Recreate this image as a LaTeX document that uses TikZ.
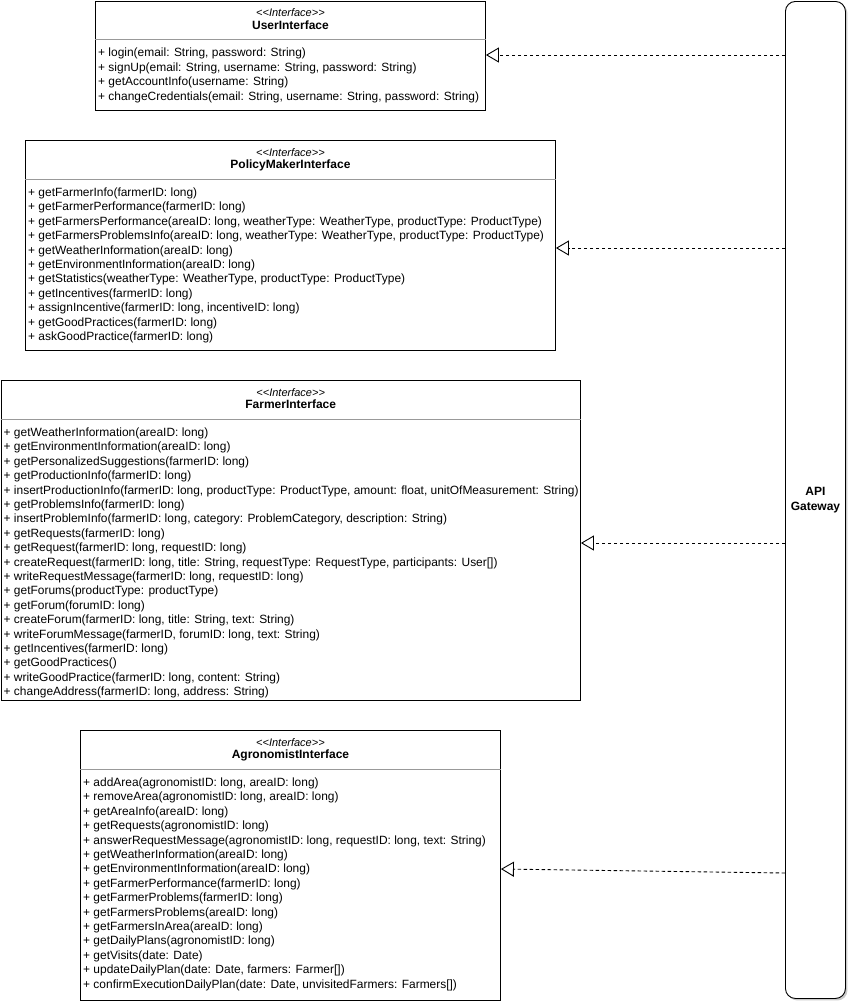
\documentclass[tikz,border=0pt]{standalone}
\usepackage{fontspec}
\setmainfont{Liberation Sans}
\usetikzlibrary{arrows.meta,shadows,calc}

% One UML interface box: name, left, top, width, height, title, operations
\newcommand\interfacebox[7]{%
  \node[classbox, minimum width=#4pt, minimum height=#5pt] (#1) at (#2,#3) {};
  \draw[divider] ([yshift=-39pt]#1.north west) -- ([yshift=-39pt]#1.north east);
  \node[stereo] (#1-stereo) at ($(#1.north)+(0,16)$) {{<}{<}Interface{>}{>}};
  \node[classname] (#1-name) at ($(#1.north)+(0,28.8)$) {#6};
  \node[members] (#1-ops) at ($(#1.north west)+(3,47.6)$) {#7};
}

\begin{document}
\begin{tikzpicture}[x=1pt,y=-1pt,
  classbox/.style={draw=black, line width=0.9pt, fill=white, inner sep=0, anchor=north west},
  divider/.style={draw=black!40, line width=0.9pt},
  stereo/.style={font=\fontsize{11}{13}\selectfont\itshape, anchor=base, inner sep=0},
  classname/.style={font=\fontsize{12}{14.4}\selectfont\bfseries, anchor=base, inner sep=0},
  members/.style={font=\fontsize{11.95}{14.4}\selectfont, align=left, anchor=north west, inner sep=0},
  gatewaybox/.style={draw=black, line width=0.9pt, fill=white, rounded corners=10pt,
    anchor=north west, align=center, font=\fontsize{12}{15}\selectfont\bfseries,
    drop shadow={shadow xshift=2pt, shadow yshift=-2pt, opacity=0.35, fill=black!60}},
  realizes/.style={draw=black, line width=0.9pt, dash pattern=on 3.5pt off 2.5pt,
    -{Triangle[open, length=13pt, width=15pt]}}
]
\useasboundingbox (0,0) rectangle (850,1005);

% API gateway column on the right
\node[gatewaybox, minimum width=60pt, minimum height=997pt] (gw) at (785,1) {API\\Gateway};

\interfacebox{user}{95}{0.5}{390}{109.5}{UserInterface}{%
+ login(email: String, password: String)\\
+ signUp(email: String, username: String, password: String)\\
+ getAccountInfo(username: String)\\
+ changeCredentials(email: String, username: String, password: String)}

\interfacebox{policy}{25}{140}{530}{210}{PolicyMakerInterface}{%
+ getFarmerInfo(farmerID: long)\\
+ getFarmerPerformance(farmerID: long)\\
+ getFarmersPerformance(areaID: long, weatherType: WeatherType, productType: ProductType)\\
+ getFarmersProblemsInfo(areaID: long, weatherType: WeatherType, productType: ProductType)\\
+ getWeatherInformation(areaID: long)\\
+ getEnvironmentInformation(areaID: long)\\
+ getStatistics(weatherType: WeatherType, productType: ProductType)\\
+ getIncentives(farmerID: long)\\
+ assignIncentive(farmerID: long, incentiveID: long)\\
+ getGoodPractices(farmerID: long)\\
+ askGoodPractice(farmerID: long)}

\interfacebox{farmer}{0.5}{380}{579.5}{320}{FarmerInterface}{%
+ getWeatherInformation(areaID: long)\\
+ getEnvironmentInformation(areaID: long)\\
+ getPersonalizedSuggestions(farmerID: long)\\
+ getProductionInfo(farmerID: long)\\
+ insertProductionInfo(farmerID: long, productType: ProductType, amount: float, unitOfMeasurement: String)\\
+ getProblemsInfo(farmerID: long)\\
+ insertProblemInfo(farmerID: long, category: ProblemCategory, description: String)\\
+ getRequests(farmerID: long)\\
+ getRequest(farmerID: long, requestID: long)\\
+ createRequest(farmerID: long, title: String, requestType: RequestType, participants: User[])\\
+ writeRequestMessage(farmerID: long, requestID: long)\\
+ getForums(productType: productType)\\
+ getForum(forumID: long)\\
+ createForum(farmerID: long, title: String, text: String)\\
+ writeForumMessage(farmerID, forumID: long, text: String)\\
+ getIncentives(farmerID: long)\\
+ getGoodPractices()\\
+ writeGoodPractice(farmerID: long, content: String)\\
+ changeAddress(farmerID: long, address: String)}

\interfacebox{agro}{80}{730}{420}{270}{AgronomistInterface}{%
+ addArea(agronomistID: long, areaID: long)\\
+ removeArea(agronomistID: long, areaID: long)\\
+ getAreaInfo(areaID: long)\\
+ getRequests(agronomistID: long)\\
+ answerRequestMessage(agronomistID: long, requestID: long, text: String)\\
+ getWeatherInformation(areaID: long)\\
+ getEnvironmentInformation(areaID: long)\\
+ getFarmerPerformance(farmerID: long)\\
+ getFarmerProblems(farmerID: long)\\
+ getFarmersProblems(areaID: long)\\
+ getFarmersInArea(areaID: long)\\
+ getDailyPlans(agronomistID: long)\\
+ getVisits(date: Date)\\
+ updateDailyPlan(date: Date, farmers: Farmer[])\\
+ confirmExecutionDailyPlan(date: Date, unvisitedFarmers: Farmers[])}

% heights at which the realization connectors run
\coordinate (lvl-user) at (0,55);
\coordinate (lvl-policy) at (0,248);
\coordinate (lvl-farmer) at (0,543);
\coordinate (lvl-agro-gw) at (0,873);
\coordinate (lvl-agro) at (0,869);

\draw[realizes] (gw.west |- lvl-user) -- (user.east |- lvl-user);
\draw[realizes] (gw.west |- lvl-policy) -- (policy.east |- lvl-policy);
\draw[realizes] (gw.west |- lvl-farmer) -- (farmer.east |- lvl-farmer);
\draw[realizes] (gw.west |- lvl-agro-gw) -- (agro.east |- lvl-agro);
\end{tikzpicture}
\end{document}
